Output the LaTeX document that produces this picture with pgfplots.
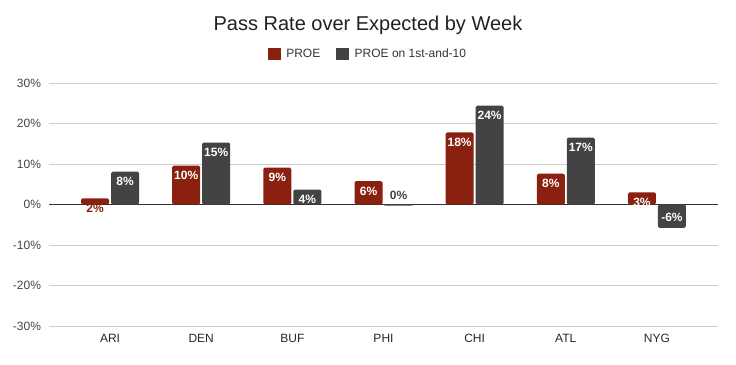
\documentclass[border=0pt]{standalone}
\usepackage{pgfplots}
\pgfplotsset{compat=1.18}
\usepackage{fontspec}
\setmainfont{Liberation Sans}
\definecolor{proe}{HTML}{8A2110}
\definecolor{first}{HTML}{434343}
\definecolor{gridc}{HTML}{CCCCCC}
\definecolor{tickc}{HTML}{444444}
\begin{document}
\begin{tikzpicture}
\useasboundingbox (-49pt,-38pt) rectangle (687pt,326pt);
\begin{axis}[
  scale only axis, width=669pt, height=243pt,
  xmin=-0.67, xmax=6.67, ymin=-30, ymax=30,
  axis line style={draw=none},
  major tick length=0pt,
  ymajorgrids, grid style={gridc, line width=0.9pt},
  xtick={0,1,2,3,4,5,6},
  xticklabels={ARI,DEN,BUF,PHI,CHI,ATL,NYG},
  ytick={-30,-20,-10,0,10,20,30},
  yticklabel={\pgfmathprintnumber{\tick}\%},
  /pgf/number format/assume math mode=true,
  tick label style={font=\fontsize{12}{14}\selectfont, text=tickc},
  xticklabel style={text=black!85, yshift=-5pt},
  yticklabel style={xshift=-4.5pt},
  extra y ticks={0}, extra y tick labels={},
  extra y tick style={grid style={black!80, line width=1pt}},
  title={Pass Rate over Expected by Week},
  title style={at={(0.4768,1)}, anchor=center, yshift=52pt, font=\fontsize{20}{24}\selectfont, text=black!87},
  legend style={draw=none, fill=none, at={(0.4768,1)}, anchor=center, yshift=29pt,
    font=\fontsize{12}{14}\selectfont, text=black!80,
    /tikz/every odd column/.append style={column sep=4pt},
    /tikz/every even column/.append style={column sep=14pt}},
  legend columns=2, legend cell align=left,
  nodes near coords={\pgfplotspointmeta\%},
  point meta=explicit symbolic,
  visualization depends on={value \thisrow{sh} \as \sh},
  visualization depends on={value \thisrow{tc} \as \tc},
  every node near coord/.append style={anchor=center, yshift=\sh pt, text=\tc, font=\bfseries\fontsize{12}{14}\selectfont},
]
\addlegendimage{legend image code/.code={\fill[proe] (0pt,-5.5pt) rectangle (12pt,5.5pt);}}
\addlegendentry{PROE}
\addlegendimage{legend image code/.code={\fill[first] (0pt,-5.5pt) rectangle (12pt,5.5pt);}}
\addlegendentry{PROE on 1st-and-10}
\addplot[ybar, bar width=28pt, bar shift=-15pt, fill=proe, draw=none, rounded corners=1.5pt, forget plot,
  every node near coord/.append style={xshift=-15pt}]
 table[x=x, y=y, meta=lab] {
x y lab sh tc
0 1.5 2 -10 proe
1 9.6 10 -10 white
2 9.1 9 -10 white
3 5.75 6 -10 white
4 17.8 18 -10 white
5 7.6 8 -10 white
6 3.0 3 -10 white
};
\addplot[ybar, bar width=28pt, bar shift=15pt, fill=first, draw=none, rounded corners=1.5pt, forget plot,
  every node near coord/.append style={xshift=15pt}]
 table[x=x, y=y, meta=lab] {
x y lab sh tc
0 8.1 8 -10 white
1 15.3 15 -10 white
2 3.7 4 -10 white
3 -0.3 0 10 first
4 24.4 24 -10 white
5 16.5 17 -10 white
6 -5.75 -6 10 white
};
\end{axis}
\end{tikzpicture}
\end{document}
